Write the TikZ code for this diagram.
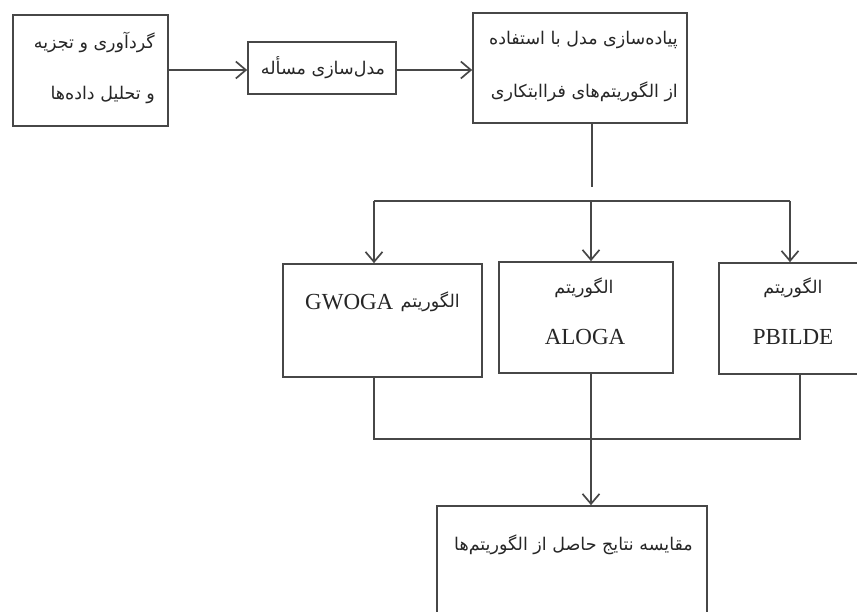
\documentclass[tikz,border=0pt]{standalone}
\usepackage{fontspec}
\usetikzlibrary{arrows.meta}
\TeXXeTstate=1
\newfontfamily\arabicfont[Script=Arabic]{DejaVu Sans}
\newfontfamily\latinfont{Liberation Serif}
\definecolor{ln}{HTML}{474747}
\definecolor{tx}{HTML}{262626}
\begin{document}
\begin{tikzpicture}[x=1pt,y=-1pt,
  box/.style={draw=ln,line width=1.7pt,fill=white,inner sep=0pt},
  ar/.style={font=\arabicfont\fontsize{17.5}{20}\selectfont,text=tx,inner sep=0pt},
  la/.style={font=\latinfont\fontsize{23}{26}\selectfont,text=tx,inner sep=0pt},
  conn/.style={draw=ln,line width=1.7pt},
  arr/.style={conn,-{Straight Barb[length=10pt,width=17pt]}}]
\useasboundingbox (0,0) rectangle (857,612);
\clip (0,0) rectangle (857,612);
% boxes
\node[box,minimum width=155pt,minimum height=111pt] (b1) at (90.5,70.5) {};
\node[box,minimum width=148pt,minimum height=52pt] (b2) at (322,68) {};
\node[box,minimum width=214pt,minimum height=110pt] (b3) at (580,68) {};
\node[box,minimum width=199pt,minimum height=113pt] (g) at (382.5,320.5) {};
\node[box,minimum width=174pt,minimum height=111pt] (a) at (586,317.5) {};
\node[box,minimum width=161pt,minimum height=111pt] (p) at (799.5,318.5) {};
\node[box,minimum width=270pt,minimum height=144pt] (c) at (572,578) {};
% texts
\node[ar,anchor=east] (t1a) at (155,42) {\beginR گردآوری و تجزیه\endR};
\node[ar,anchor=east] (t1b) at (155,95) {\beginR و تحلیل داده‌ها\endR};
\node[ar] (t2) at (323,68) {\beginR مدل‌سازی مسأله\endR};
\node[ar,anchor=east] (t3a) at (678,40) {\beginR پیاده‌سازی مدل با استفاده\endR};
\node[ar,anchor=east] (t3b) at (678,92) {\beginR از الگوریتم‌های فراابتکاری\endR};
\node[la,anchor=west] (tg1) at (305,302) {GWOGA};
\node[ar,anchor=east] (tg2) at (460,302) {\beginR الگوریتم\endR};
\node[ar] (ta1) at (584,288) {\beginR الگوریتم\endR};
\node[la] (ta2) at (585,337) {ALOGA};
\node[ar] (tp1) at (793,288) {\beginR الگوریتم\endR};
\node[la] (tp2) at (793,337) {PBILDE};
\node[ar,anchor=east] (tc) at (693,545) {\beginR مقایسه نتایج حاصل از الگوریتم‌ها\endR};
% connectors
\coordinate (y70) at (0,70);
\draw[arr] (b1.east |- y70) -- (b2.west |- y70);
\draw[arr] (b2.east |- y70) -- (b3.west |- y70);
\coordinate (cx) at (592,0);
\coordinate (s1) at (592,187);
\draw[conn] (b3.south -| cx) -- (s1);
\coordinate (hl) at (374,201);
\coordinate (hm) at (591,201);
\coordinate (hr) at (790,201);
\draw[conn] (hl) -- (hr);
\draw[arr] (hl) -- (g.north -| hl);
\draw[arr] (hm) -- (a.north -| hm);
\draw[arr] (hr) -- (p.north -| hr);
\coordinate (jl) at (374,439);
\coordinate (jm) at (591,439);
\coordinate (jr) at (800,439);
\draw[conn] (g.south -| jl) -- (jl) -- (jr) -- (p.south -| jr);
\draw[conn] (a.south -| jm) -- (jm);
\draw[arr] (jm) -- (c.north -| jm);
\end{tikzpicture}
\end{document}
